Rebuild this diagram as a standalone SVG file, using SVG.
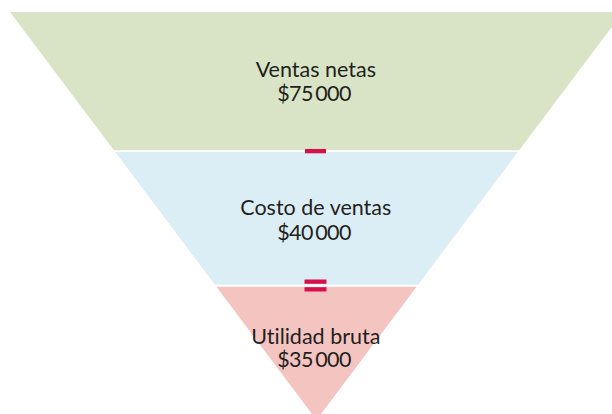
<svg xmlns="http://www.w3.org/2000/svg" width="612" height="414" viewBox="0 0 612 414">
<style>
.lbl{font-family:Lato,"Noto Sans","Liberation Sans",sans-serif;font-size:21.5px;fill:#231f20;text-anchor:middle;font-variant-ligatures:none;font-feature-settings:"liga" 0}
.num{word-spacing:-2.5px;letter-spacing:-0.6px}
.op{fill:#d7104a}
</style>
<rect x="0" y="0" width="612" height="414" fill="#ffffff"/>
<g id="ventas-netas">
<polygon points="10,12 623,12 519.1,150.3 113.9,150.3" fill="#d9e4c6"/>
<text class="lbl" x="315.8" y="76.5">Ventas netas</text>
<text class="lbl num" x="314" y="100.5">$75 000</text>
</g>
<g id="costo-de-ventas">
<polygon points="115.2,152 517.8,152 418.1,284.7 214.9,284.7" fill="#dceef5"/>
<text class="lbl" x="315.8" y="214.5">Costo de ventas</text>
<text class="lbl num" x="314" y="239.5">$40 000</text>
</g>
<g id="utilidad-bruta">
<polygon points="216.4,286.7 416.6,286.7 316.5,420" fill="#f4c4c0"/>
<text class="lbl" x="315.8" y="343.5">Utilidad bruta</text>
<text class="lbl num" x="314" y="367">$35 000</text>
</g>
<g id="connectors">
<rect class="op" x="305" y="149" width="21" height="4.3"/>
<rect class="op" x="304.5" y="279.5" width="22" height="4.3"/>
<rect class="op" x="304.5" y="287.2" width="22" height="4.3"/>
</g>
</svg>
